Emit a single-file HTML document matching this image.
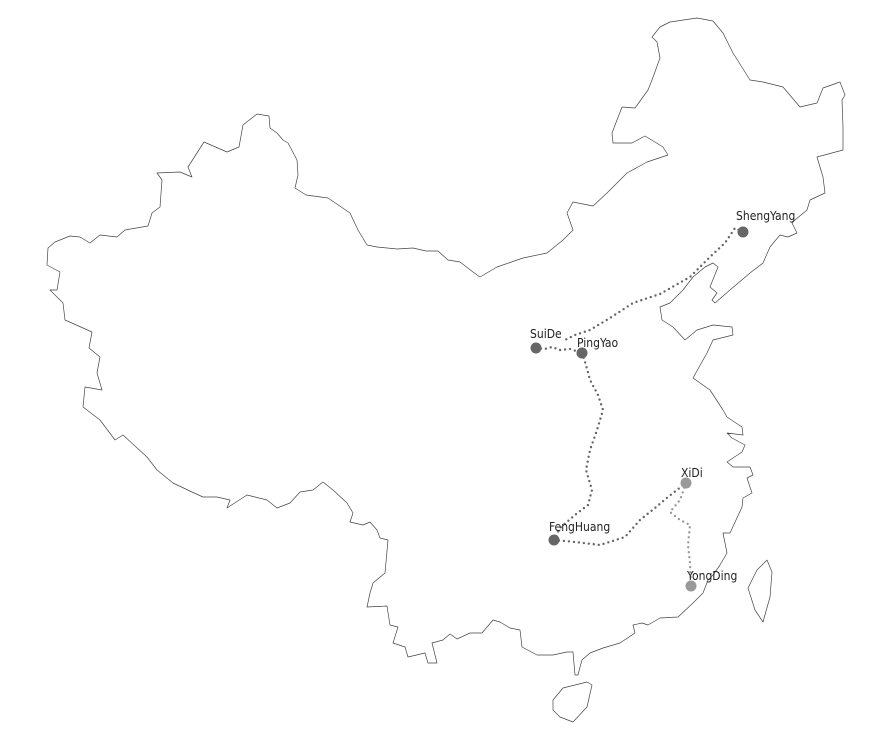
<!DOCTYPE html>
<html><head><meta charset="utf-8"><style>
html,body{margin:0;padding:0;background:#fff;}
svg{display:block;}
text{font-family:"DejaVu Sans Condensed","Liberation Sans",sans-serif;font-size:12px;fill:#222;}
</style></head><body>
<svg width="871" height="748" viewBox="0 0 871 748">
<g fill="none" stroke="#444" stroke-width="0.7" stroke-linejoin="round">
<path d="M257,114 L269,116 L270,128 L277,133 L283,140 L288,143 L297,160 L298,175 L295,188 L306,195 L328,198 L350,213 L358,230 L367,245 L377,247 L397,249 L413,248 L426,251 L438,251 L448,260 L460,262 L473,272 L480,277 L497,267 L523,258 L547,253 L563,240 L573,230 L567,213 L573,202 L593,206 L607,193 L627,173 L647,162 L668,155 L663,147 L645,136 L632,143 L613,143 L612,133 L622,107 L635,108 L648,90 L652,80 L660,58 L657,42 L652,37 L660,27 L670,22 L697,18 L713,21 L723,33 L733,53 L750,80 L763,82 L783,87 L800,107 L817,103 L823,88 L840,82 L845,95 L842,100 L843,127 L843,150 L817,157 L823,177 L825,193 L810,200 L807,210 L795,220 L792,223 L797,233 L788,237 L780,235 L770,247 L763,263 L750,273 L730,290 L715,303 L712,300 L717,293 L710,287 L718,267 L713,263 L705,267 L693,277 L683,290 L670,303 L660,307 L662,320 L673,327 L685,340 L697,330 L713,325 L732,327 L733,335 L713,340 L707,353 L703,360 L693,378 L710,390 L723,410 L727,417 L742,427 L743,435 L727,433 L732,438 L745,445 L742,452 L727,462 L733,467 L750,467 L753,475 L747,478 L752,493 L743,498 L742,507 L730,533 L723,533 L727,553 L720,565 L713,575 L708,580 L703,593 L693,603 L678,617 L660,618 L648,625 L642,623 L633,625 L635,633 L620,643 L603,648 L590,653 L582,660 L580,667 L578,675 L575,675 L573,652 L567,652 L553,655 L537,655 L522,647 L520,630 L510,628 L500,622 L493,620 L482,633 L470,633 L457,639 L450,634 L443,640 L432,643 L437,663 L428,663 L425,653 L408,657 L405,647 L393,643 L398,627 L390,625 L387,606 L367,607 L370,593 L373,583 L385,573 L388,540 L380,538 L377,530 L370,522 L363,525 L350,522 L353,513 L347,503 L333,490 L323,482 L313,490 L300,492 L290,503 L277,508 L267,500 L247,495 L227,508 L230,500 L217,497 L203,497 L192,492 L173,483 L157,470 L147,457 L123,435 L115,440 L100,420 L83,407 L85,387 L102,390 L97,373 L100,357 L89,348 L92,332 L65,320 L63,303 L50,290 L57,290 L60,272 L47,265 L48,248 L55,242 L70,236 L80,237 L90,243 L100,235 L117,237 L125,230 L148,226 L152,213 L160,207 L162,180 L157,173 L180,172 L192,177 L188,167 L204,142 L227,152 L239,147 L243,125 Z"/>
<path d="M553,700 L563,688 L587,682 L592,685 L587,707 L573,722 L560,717 L553,710 Z"/>
<path d="M767,560 L772,572 L770,597 L763,622 L755,610 L748,588 L757,570 Z"/>
</g>
<g fill="none" stroke-linecap="round" stroke-width="2.4" stroke-dasharray="0 5">
<path stroke="#666" d="M743,232 L735,228 L725,243 L712,255 L700,267 L690,277 L660,294 L633,303 L610,318 L590,330 L575,335 L565,340"/>
<path stroke="#666" d="M536,348 L545,349 L552,347 L560,350 L570,349 L582,353"/>
<path stroke="#666" d="M582,353 L586,365 L590,380 L598,395 L603,410 L597,430 L590,450 L586,470 L592,490 L588,505 L575,515 L560,528 L554,540"/>
<path stroke="#666" d="M554,540 L575,542 L600,545 L625,537 L640,520 L655,508 L668,497 L686,483"/>
<path stroke="#999" d="M686,483 L680,500 L670,512 L680,520 L690,525 L688,545 L690,563 L691,586"/>
</g>
<g>
<circle cx="743" cy="232" r="5.5" fill="#666"/>
<circle cx="536" cy="348" r="5.5" fill="#666"/>
<circle cx="582" cy="353" r="5.5" fill="#666"/>
<circle cx="554" cy="540" r="5.5" fill="#666"/>
<circle cx="686" cy="483" r="5.5" fill="#999"/>
<circle cx="691" cy="586" r="5.5" fill="#999"/>
</g>
<text x="736" y="220">ShengYang</text>
<text x="530" y="338">SuiDe</text>
<text x="577" y="347">PingYao</text>
<text x="549" y="531">FengHuang</text>
<text x="681" y="477">XiDi</text>
<text x="687" y="580">YongDing</text>
</svg>
</body></html>
